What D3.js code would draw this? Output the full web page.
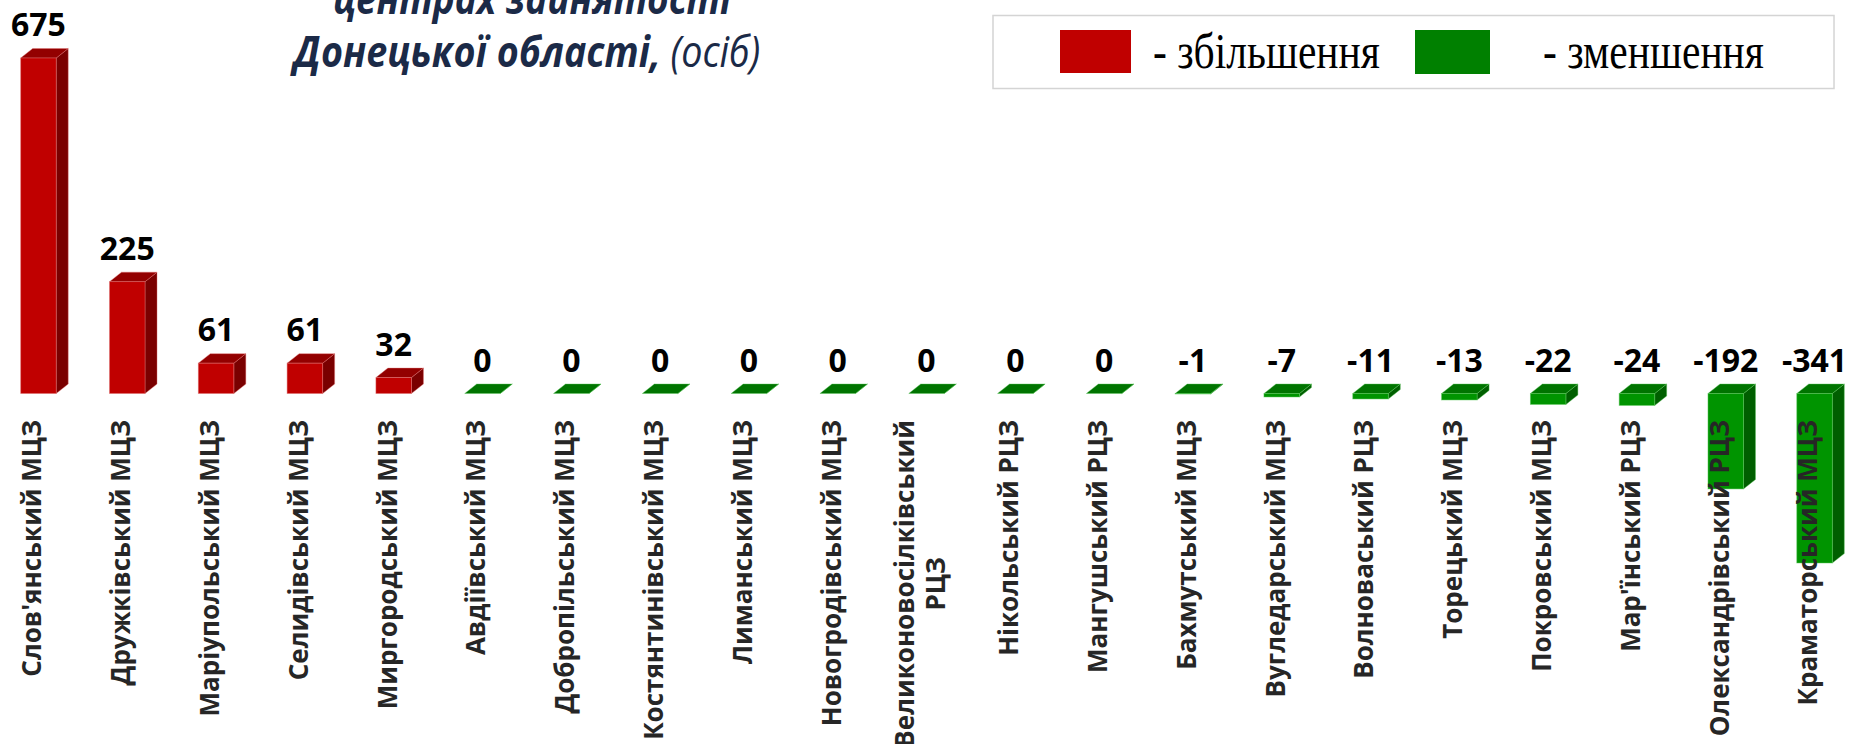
<!DOCTYPE html>
<html>
<head>
<meta charset="utf-8">
<script src="https://cdn.jsdelivr.net/npm/d3@7/dist/d3.min.js"></script>
<style>
  html, body { margin: 0; padding: 0; background: #fff; overflow: hidden; }
  svg { display: block; }
</style>
</head>
<body>
<svg width="1858" height="744"></svg>
<script>
// chart data
const categories = [
  "Слов'янський МЦЗ", "Дружківський МЦЗ", "Маріупольський МЦЗ", "Селидівський МЦЗ",
  "Миргородський МЦЗ", "Авдіївський МЦЗ", "Добропільський МЦЗ", "Костянтинівський МЦЗ",
  "Лиманський МЦЗ", "Новогродівський МЦЗ", "Великоновосілківський РЦЗ", "Нікольський РЦЗ",
  "Мангушський РЦЗ", "Бахмутський МЦЗ", "Вугледарський МЦЗ", "Волноваський РЦЗ",
  "Торецький МЦЗ", "Покровський МЦЗ", "Мар'їнський РЦЗ", "Олександрівський РЦЗ",
  "Краматорський МЦЗ"
];
const values = [675, 225, 61, 61, 32, 0, 0, 0, 0, 0, 0, 0, 0, -1, -7, -11, -13, -22, -24, -192, -341];
const titleLines = ["центрах зайнятості", "Донецької області,"];
const titleUnit = " (осіб)";
const legendItems = ["- збільшення", "- зменшення"];

// set up canvas
const svg = d3.select("svg"),
  width = +svg.attr("width"),
  height = +svg.attr("height");

// colours for the 3d faces
const red = { front: "#c00000", top: "#930000", side: "#7a0000", edge: "#e07070" };
const green = { front: "#009400", top: "#007400", side: "#005f00", edge: "#5cc85c" };

// depth of the fake 3d boxes
const dx = 12, dy = 9.5;

const x = d3.scaleBand()
  .domain(categories)
  .range([0, 1853])
  .paddingInner(0.6)
  .paddingOuter(0.233);

const y = d3.scaleLinear()
  .domain([-341, 675])
  .range([563, 58]);

// squeeze a text node horizontally so it fits a measured width
function squeeze(g, target) {
  const w = g.node().getBBox().width;
  return w > 0 ? target / w : 1;
}

// bars
const bars = svg.append("g").attr("class", "bars")
  .selectAll("g")
  .data(values.map((v, i) => ({ name: categories[i], value: v })))
  .join("g");

bars.each(function (d) {
  const g = d3.select(this);
  const c = d.value > 0 ? red : green;
  const x0 = x(d.name), w = x.bandwidth();
  const yTop = y(Math.max(d.value, 0)), yBot = y(Math.min(d.value, 0));
  // side face
  g.append("path")
    .attr("d", `M${x0 + w},${yTop}L${x0 + w + dx},${yTop - dy}L${x0 + w + dx},${yBot - dy}L${x0 + w},${yBot}Z`)
    .attr("fill", c.side)
    .attr("stroke", c.edge).attr("stroke-width", 0.8).attr("stroke-opacity", 0.5);
  // top face
  g.append("path")
    .attr("d", `M${x0},${yTop}L${x0 + dx},${yTop - dy}L${x0 + w + dx},${yTop - dy}L${x0 + w},${yTop}Z`)
    .attr("fill", c.top)
    .attr("stroke", c.edge).attr("stroke-width", 0.8).attr("stroke-opacity", 0.5);
  // front face
  if (yBot - yTop > 0) {
    g.append("rect")
      .attr("x", x0).attr("y", yTop)
      .attr("width", w).attr("height", yBot - yTop)
      .attr("fill", c.front)
      .attr("stroke", c.edge).attr("stroke-width", 0.8).attr("stroke-opacity", 0.6);
  }
});

// value labels above each bar
svg.append("g").attr("class", "values")
  .selectAll("text")
  .data(values)
  .join("text")
  .attr("x", (d, i) => x(categories[i]) + x.bandwidth() / 2)
  .attr("y", d => y(Math.max(d, 0)) - 22)
  .attr("text-anchor", "middle")
  .attr("font-family", "'Open Sans', sans-serif")
  .attr("font-weight", 700)
  .attr("font-size", 32)
  .attr("fill", "#000")
  .text(d => d);

// category labels, rotated, end at the top
const labelTop = 420, lineH = 31;
const labels = svg.append("g").attr("class", "cats")
  .selectAll("g")
  .data(categories)
  .join("g")
  .attr("transform", d => `translate(${x(d) + x.bandwidth() / 2 - 6.5},${labelTop}) rotate(-90)`);

labels.each(function (d) {
  const g = d3.select(this);
  let lines = [d];
  if (d.length > 22) {
    const k = d.lastIndexOf(" ");
    lines = [d.slice(0, k), d.slice(k + 1)];
  }
  const t = g.append("text")
    .attr("font-family", "'Open Sans', sans-serif")
    .attr("font-weight", 700)
    .attr("font-size", 26)
    .attr("fill", "#262626");
  if (lines.length === 1) {
    t.attr("text-anchor", "end").attr("dy", "0.36em").text(d);
  } else {
    const spans = t.selectAll("tspan").data(lines).join("tspan")
      .attr("dy", "0.36em")
      .text(s => s);
    const longest = d3.max(spans.nodes(), n => n.getComputedTextLength());
    spans
      .attr("text-anchor", "middle")
      .attr("x", -longest / 2)
      .attr("y", (s, i) => (i - (lines.length - 1) / 2) * lineH);
  }
});

// title, first line runs off the top of the picture as in the source
const title = svg.append("g").attr("class", "title")
  .attr("font-family", "'Open Sans', sans-serif")
  .attr("font-style", "italic")
  .attr("font-size", 43)
  .attr("fill", "#1b2a47");

const t1 = title.append("g");
t1.append("text").attr("text-anchor", "middle").attr("font-weight", 700).text(titleLines[0]);
t1.attr("transform", `translate(532,14) scale(${squeeze(t1, 399)},1)`);

const t2 = title.append("g");
const t2text = t2.append("text").attr("text-anchor", "middle");
t2text.append("tspan").attr("font-weight", 700).text(titleLines[1]);
t2text.append("tspan").attr("font-weight", 400).text(titleUnit);
t2.attr("transform", `translate(527,67) scale(${squeeze(t2, 471)},1)`);

// legend box
const legend = svg.append("g").attr("class", "legend");
legend.append("rect")
  .attr("x", 993).attr("y", 15.5)
  .attr("width", 841).attr("height", 73)
  .attr("fill", "#fff")
  .attr("stroke", "#d4d4d4").attr("stroke-width", 1.5);

const legendRows = [
  { sw: [1060, 30, 71, 43], tx: 1153, tw: 227, color: "#c00000" },
  { sw: [1415, 30, 75, 44], tx: 1543, tw: 221, color: "#008000" }
];
legendRows.forEach((r, i) => {
  legend.append("rect")
    .attr("x", r.sw[0]).attr("y", r.sw[1])
    .attr("width", r.sw[2]).attr("height", r.sw[3])
    .attr("fill", r.color);
  const lg = legend.append("g");
  lg.append("text")
    .attr("font-family", "'Liberation Serif', 'Times New Roman', serif")
    .attr("font-size", 50)
    .attr("fill", "#000")
    .text(legendItems[i]);
  lg.attr("transform", `translate(${r.tx},68) scale(${squeeze(lg, r.tw)},1)`);
});
</script>
</body>
</html>
